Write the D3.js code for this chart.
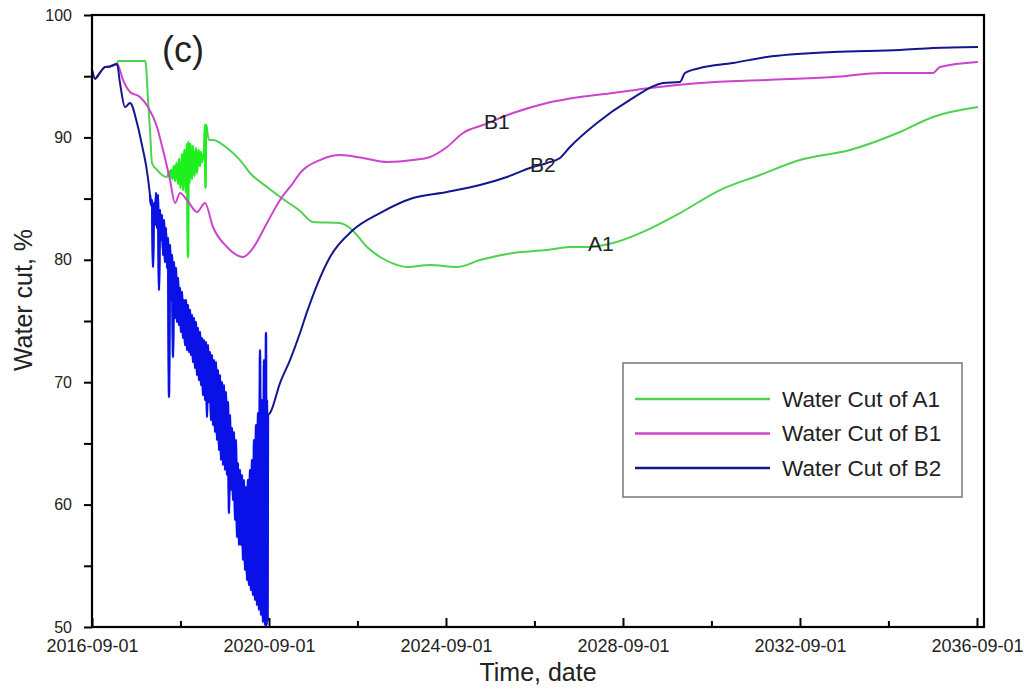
<!DOCTYPE html>
<html>
<head>
<meta charset="utf-8">
<script src="https://cdn.jsdelivr.net/npm/d3@7"></script>
<style>
  body { margin: 0; background: #fff; }
  svg { display: block; }
  text { font-family: "Liberation Sans", Arial, sans-serif; }
</style>
</head>
<body>
<div id="chart"></div>
<script>
// time is in years since 2016-09-01, values in %
var a1 = [
  [0, 95.5], [0.068, 94.8], [0.181, 95.3], [0.294, 95.75], [0.407, 95.8], [0.565, 96.0],
  [0.588, 96.24], [1.198, 96.24], [1.220, 95.91], [1.266, 93.06], [1.311, 90.60], [1.356, 87.91],
  [1.469, 87.34], [1.582, 86.93], [1.695, 86.76],
  [1.740, 87.25], [1.763, 86.76], [1.785, 87.34], [1.819, 86.60], [1.853, 87.66], [1.876, 86.44],
  [1.910, 87.91], [1.944, 86.19], [1.966, 88.24], [2.000, 85.87], [2.034, 88.64], [2.056, 85.70],
  [2.090, 88.97], [2.124, 85.54], [2.147, 89.46], [2.169, 80.23], [2.181, 89.62], [2.203, 86.27],
  [2.226, 89.46], [2.260, 86.60], [2.282, 89.30], [2.316, 86.85], [2.350, 89.13], [2.373, 87.09],
  [2.407, 88.97], [2.441, 87.66], [2.463, 88.81], [2.486, 87.99], [2.508, 88.56], [2.531, 88.32],
  [2.554, 91.01], [2.565, 85.87], [2.576, 91.01], [2.599, 90.60], [2.644, 89.79],
  [2.734, 89.79], [3.051, 89.13], [3.345, 88.15], [3.571, 87.09], [3.955, 85.95], [4.316, 84.97],
  [4.701, 83.99], [4.994, 83.09], [5.605, 83.01], [5.831, 82.60], [6.215, 81.05], [6.508, 80.23],
  [6.893, 79.58], [7.119, 79.41], [7.638, 79.58], [8.249, 79.41], [8.768, 79.98], [9.514, 80.56],
  [10.282, 80.80], [10.802, 81.05], [11.186, 81.05], [11.774, 81.37], [12.542, 82.43], [13.288, 83.82],
  [14.192, 85.70], [15.096, 86.93], [16.0, 88.15], [17.130, 88.97], [18.260, 90.44], [19.006, 91.67],
  [20.023, 92.48]
];

var b1 = [
  [0, 95.5], [0.068, 94.8], [0.181, 95.3], [0.294, 95.75], [0.407, 95.8], [0.565, 96.0],
  [0.588, 95.91], [0.701, 94.69], [0.859, 93.71], [1.085, 93.30], [1.266, 92.48], [1.469, 90.85],
  [1.605, 88.97], [1.763, 86.52], [1.876, 84.64], [1.989, 85.46], [2.147, 84.89], [2.373, 83.91],
  [2.554, 84.64], [2.734, 82.68], [3.051, 81.05], [3.412, 80.23], [3.638, 80.96], [3.955, 83.01],
  [4.249, 84.89], [4.542, 86.27], [4.701, 87.09], [5.153, 88.15], [5.605, 88.56], [6.124, 88.32],
  [6.667, 87.99], [7.254, 88.15], [7.638, 88.40], [8.023, 89.22], [8.384, 90.36], [8.836, 91.01],
  [9.514, 91.99], [10.282, 92.81], [11.028, 93.30], [11.774, 93.63], [12.610, 94.04], [13.740, 94.44],
  [15.254, 94.69], [16.746, 94.93], [17.876, 95.26], [19.006, 95.26], [19.164, 95.75], [20.023, 96.16]
];

var b2 = [
  [0, 95.5], [0.068, 94.8], [0.181, 95.3], [0.294, 95.75], [0.407, 95.8], [0.565, 96.0],
  [0.633, 94.44], [0.746, 92.48], [0.859, 92.81], [1.017, 91.18], [1.153, 88.97], [1.220, 87.75],
  [1.311, 85.29], [1.333, 84.48], [1.356, 84.89], [1.379, 79.41], [1.401, 84.64], [1.424, 82.84],
  [1.446, 85.46], [1.469, 82.60], [1.492, 85.29], [1.514, 77.53], [1.537, 84.07], [1.559, 81.62],
  [1.582, 83.66], [1.605, 80.39], [1.627, 83.25], [1.650, 79.82], [1.672, 82.60], [1.695, 79.33],
  [1.718, 81.78], [1.740, 68.79], [1.763, 81.21], [1.785, 76.72], [1.808, 80.39], [1.831, 72.06],
  [1.853, 79.82], [1.876, 75.24], [1.898, 79.33], [1.921, 74.92], [1.944, 78.51], [1.966, 74.67],
  [1.989, 77.70], [2.011, 74.10], [2.034, 77.37], [2.056, 73.61], [2.079, 76.72], [2.102, 73.04],
  [2.124, 76.72], [2.147, 72.63], [2.169, 76.31], [2.192, 72.47], [2.215, 75.90], [2.237, 72.22],
  [2.260, 75.49], [2.282, 71.65], [2.305, 75.24], [2.328, 71.16], [2.350, 74.92], [2.373, 70.59],
  [2.395, 74.43], [2.418, 70.18], [2.441, 74.10], [2.463, 69.77], [2.486, 73.61], [2.508, 68.95],
  [2.531, 73.45], [2.554, 68.55], [2.576, 73.28], [2.599, 67.16], [2.621, 73.04], [2.644, 68.38],
  [2.667, 72.47], [2.689, 66.91], [2.712, 72.22], [2.734, 66.50], [2.757, 71.81], [2.780, 65.93],
  [2.802, 71.65], [2.825, 65.28], [2.847, 71.00], [2.870, 64.46], [2.893, 70.59], [2.915, 63.64],
  [2.938, 70.02], [2.960, 63.23], [2.983, 69.77], [3.006, 62.83], [3.028, 69.20], [3.051, 62.42],
  [3.073, 68.38], [3.096, 59.31], [3.119, 67.32], [3.141, 61.19], [3.164, 66.26], [3.186, 60.38],
  [3.209, 65.93], [3.232, 58.74], [3.254, 65.28], [3.277, 57.35], [3.299, 63.40], [3.322, 56.70],
  [3.345, 62.83], [3.367, 56.70], [3.390, 62.42], [3.412, 55.47], [3.435, 62.01], [3.458, 54.66],
  [3.480, 61.44], [3.503, 53.84], [3.525, 62.01], [3.548, 53.43], [3.571, 62.83], [3.593, 53.02],
  [3.616, 63.64], [3.638, 52.61], [3.661, 65.28], [3.684, 52.21], [3.706, 66.50], [3.729, 51.80],
  [3.751, 67.48], [3.774, 51.39], [3.797, 72.63], [3.819, 50.98], [3.842, 68.55], [3.864, 50.41],
  [3.887, 71.81], [3.910, 50.16], [3.932, 74.02], [3.944, 50.16], [3.955, 68.55], [3.966, 50.57],
  [3.977, 67.32], [4.023, 67.48],
  [4.249, 69.93], [4.475, 71.81], [4.701, 74.02], [4.859, 75.74], [5.085, 77.94], [5.379, 80.23],
  [5.898, 82.43], [6.508, 83.82], [7.254, 85.05], [8.023, 85.54], [8.768, 86.11], [9.379, 86.77],
  [9.898, 87.50], [10.282, 87.91], [10.576, 88.32], [10.802, 89.22], [11.412, 91.18], [12.158, 93.06],
  [12.904, 94.44], [13.288, 94.53], [13.401, 95.26], [13.740, 95.67], [14.486, 96.08], [15.254, 96.57],
  [16.746, 96.98], [18.260, 97.14], [19.006, 97.30], [20.023, 97.39]
];

var series = [
  { name: "Water Cut of A1", label: "A1", data: a1, color: "#4fd24f", noisy: "#1ef01e", noise: [1.70, 2.60] },
  { name: "Water Cut of B1", label: "B1", data: b1, color: "#cc44cc", noisy: null, noise: null },
  { name: "Water Cut of B2", label: "B2", data: b2, color: "#15158e", noisy: "#0a10e8", noise: [1.30, 3.98] }
];

var yMajor = [50, 60, 70, 80, 90, 100];
var yMinor = [55, 65, 75, 85, 95];
var xYears = [2016, 2018, 2020, 2022, 2024, 2026, 2028, 2030, 2032, 2034, 2036];
var lineLabels = [
  { text: "B1", t: 9.15, v: 91.3 },
  { text: "B2", t: 10.19, v: 87.8 },
  { text: "A1", t: 11.5, v: 81.3 }
];

var W = 1024, H = 689;
var pL = 92, pR = 984, pT = 15, pB = 627;

var start = new Date(2016, 8, 1);
function toDate(t) { return new Date(start.getTime() + t * 365.25 * 864e5); }

var x = d3.scaleTime().domain([start, new Date(2036, 9, 29)]).range([pL, pR]);
var y = d3.scaleLinear().domain([50, 100]).range([pB, pT]);

var svg = d3.select("#chart").append("svg").attr("width", W).attr("height", H);

// lines
var line = d3.line().x(d => x(toDate(d[0]))).y(d => y(d[1])).curve(d3.curveMonotoneX);

series.forEach(function (s) {
  svg.append("path").datum(s.data)
    .attr("fill", "none").attr("stroke", s.color).attr("stroke-width", 2)
    .attr("stroke-linejoin", "round")
    .attr("d", line);
  if (s.noise) {
    // dense oscillating part looks brighter in the picture
    svg.append("path").datum(s.data.filter(d => d[0] >= s.noise[0] && d[0] <= s.noise[1]))
      .attr("fill", "none").attr("stroke", s.noisy).attr("stroke-width", 2.4)
      .attr("d", line);
  }
});

// axes
var fmt = d3.timeFormat("%Y-%m-%d");
var xMajorAxis = d3.axisBottom(x)
  .tickValues(xYears.filter((yr, i) => i % 2 == 0).map(yr => new Date(yr, 8, 1)))
  .tickSize(-9).tickPadding(12).tickFormat(fmt);
var xMinorAxis = d3.axisBottom(x)
  .tickValues(xYears.filter((yr, i) => i % 2 == 1).map(yr => new Date(yr, 8, 1)))
  .tickSize(-6).tickFormat("");

svg.append("g").attr("transform", "translate(0," + pB + ")").call(xMajorAxis)
  .call(g => g.select(".domain").remove())
  .call(g => g.selectAll("line").attr("stroke-width", 2))
  .call(g => g.selectAll("text").attr("font-size", 18).attr("font-family", "Liberation Sans, Arial, sans-serif").attr("fill", "#222"));
svg.append("g").attr("transform", "translate(0," + pB + ")").call(xMinorAxis)
  .call(g => g.select(".domain").remove())
  .call(g => g.selectAll("line").attr("stroke-width", 2));

var yMajorAxis = d3.axisLeft(y).tickValues(yMajor).tickSize(8).tickPadding(12);
var yMinorAxis = d3.axisLeft(y).tickValues(yMinor).tickSize(8).tickFormat("");

svg.append("g").attr("transform", "translate(" + pL + ",0)").call(yMajorAxis)
  .call(g => g.select(".domain").remove())
  .call(g => g.selectAll("line").attr("stroke-width", 2))
  .call(g => g.selectAll("text").attr("font-size", 16).attr("font-family", "Liberation Sans, Arial, sans-serif").attr("fill", "#222"));
svg.append("g").attr("transform", "translate(" + pL + ",0)").call(yMinorAxis)
  .call(g => g.select(".domain").remove())
  .call(g => g.selectAll("line").attr("stroke-width", 2));

// frame
svg.append("rect")
  .attr("x", pL).attr("y", pT).attr("width", pR - pL).attr("height", pB - pT)
  .attr("fill", "none").attr("stroke", "#000").attr("stroke-width", 2.2);

// titles
svg.append("text")
  .attr("x", 538).attr("y", 681).attr("text-anchor", "middle")
  .attr("font-size", 25).attr("fill", "#222")
  .text("Time, date");
svg.append("text")
  .attr("transform", "translate(32,300) rotate(-90)")
  .attr("text-anchor", "middle").attr("font-size", 25).attr("fill", "#222")
  .text("Water cut, %");
svg.append("text")
  .attr("x", 183).attr("y", 62).attr("text-anchor", "middle")
  .attr("font-size", 36).attr("fill", "#222")
  .text("(c)");

// labels on lines
svg.selectAll(".lbl").data(lineLabels).enter().append("text")
  .attr("class", "lbl")
  .attr("x", d => x(toDate(d.t))).attr("y", d => y(d.v))
  .attr("dy", "0.35em").attr("text-anchor", "middle")
  .attr("font-size", 21).attr("fill", "#222")
  .text(d => d.text);

// legend
var legend = svg.append("g");
legend.append("rect")
  .attr("x", 623).attr("y", 363).attr("width", 339).attr("height", 134)
  .attr("fill", "#fff").attr("stroke", "#777").attr("stroke-width", 1.5);
series.forEach(function (s, i) {
  var ly = 399 + i * 34.5;
  legend.append("line")
    .attr("x1", 635).attr("x2", 770).attr("y1", ly).attr("y2", ly)
    .attr("stroke", s.color).attr("stroke-width", 2.5);
  legend.append("text")
    .attr("x", 782).attr("y", ly).attr("dy", "0.35em")
    .attr("font-size", 22.5).attr("fill", "#222")
    .text(s.name);
});
</script>
</body>
</html>
